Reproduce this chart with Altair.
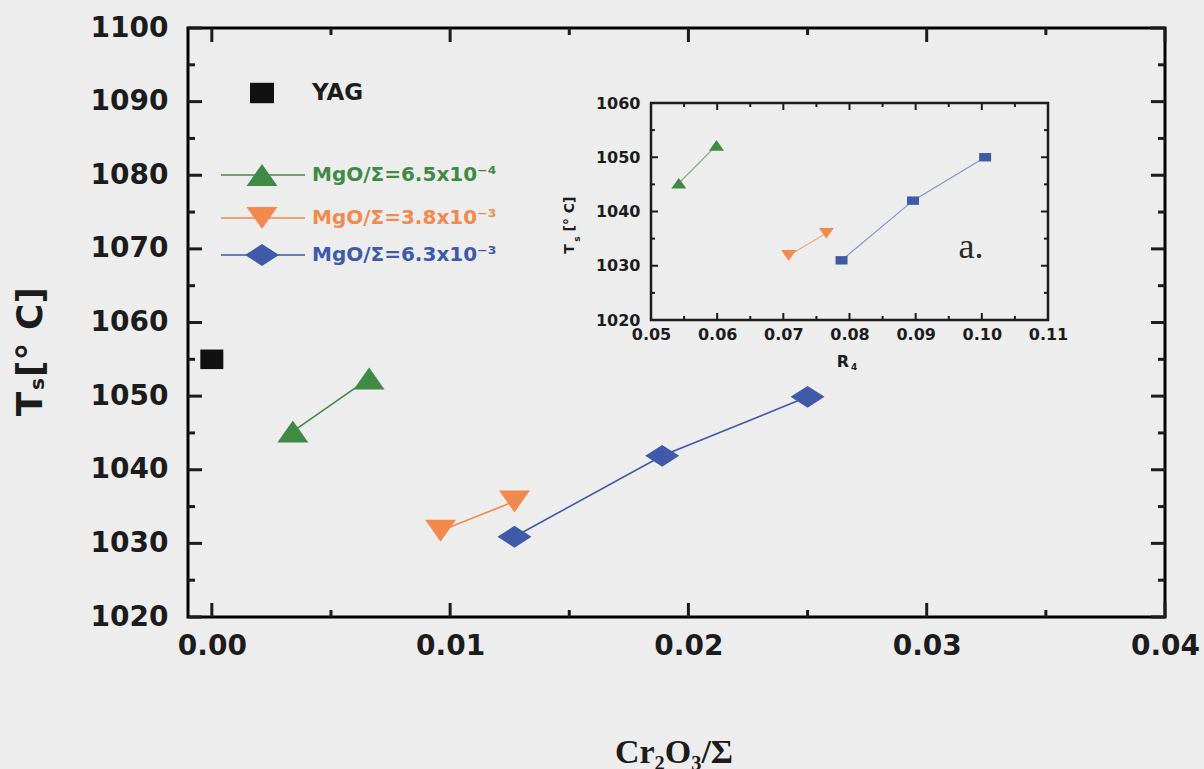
import altair as alt
import pandas as pd

# ---------------- data ----------------
series_names = ["MgO/Σ=6.5x10⁻⁴", "MgO/Σ=3.8x10⁻³", "MgO/Σ=6.3x10⁻³"]
series_colors = ["#3f8a45", "#f28a4e", "#3e5aa8"]
yag_name = "YAG"
yag_x = [0.0]
yag_y = [1055.0]
main_x = [[0.0034, 0.0066], [0.0096, 0.0127], [0.0127, 0.0189, 0.0250]]
main_y = [[1045.2, 1052.4], [1031.7, 1035.7], [1030.9, 1041.9, 1049.9]]
inset_x = [[0.0542, 0.0599], [0.0708, 0.0765], [0.0788, 0.0896, 0.1005]]
inset_y = [[1045.2, 1052.2], [1031.9, 1036.0], [1031.0, 1042.0, 1050.0]]

main_xdomain = [-0.001, 0.04]
main_ydomain = [1020, 1100]
main_xticks = [0.00, 0.01, 0.02, 0.03, 0.04]
main_xminor = [0.005, 0.015, 0.025, 0.035]
main_yticks = [1020, 1030, 1040, 1050, 1060, 1070, 1080, 1090, 1100]
main_yminor = [1025, 1035, 1045, 1055, 1065, 1075, 1085, 1095]

inset_xdomain = [0.05, 0.11]
inset_ydomain = [1020, 1060]
inset_xticks = [0.05, 0.06, 0.07, 0.08, 0.09, 0.10, 0.11]
inset_xminor = [0.055, 0.065, 0.075, 0.085, 0.095, 0.105]
inset_yticks = [1020, 1030, 1040, 1050, 1060]
inset_yminor = [1025, 1035, 1045, 1055]

# ---------------- layout / style ----------------
W, H = 977, 589
BG = "#ededee"
INK = "#1c1c1c"
LABEL_FONT = "DejaVu Sans"
SERIF = "Liberation Serif"

TRI_UP = "M0,-0.71L1,0.71L-1,0.71Z"
TRI_DN = "M0,0.71L1,-0.71L-1,-0.71Z"
DIAM = "M0,-0.64L1,0L0,0.64L-1,0Z"
SQ_MAIN = "M-1,-0.85L1,-0.85L1,0.85L-1,0.85Z"
SQ_INSET = "M-1,-0.7L1,-0.7L1,0.7L-1,0.7Z"
main_shapes = [(TRI_UP, 961), (TRI_DN, 961), (DIAM, 1156)]
inset_shapes = [(TRI_UP, 225), (TRI_DN, 225), (SQ_INSET, 144)]
inset_line_colors = ["#7fae82", "#f3a57a", "#8595c6"]

one = pd.DataFrame({"k": [0]})

# ---------------- main scales / axes ----------------
mxs = alt.Scale(domain=main_xdomain, nice=False, zero=False)
mys = alt.Scale(domain=main_ydomain, nice=False, zero=False)
mxa = alt.Axis(values=main_xticks, format=".2f", orient="bottom", labelFont=LABEL_FONT,
               labelFontWeight="bold", labelFontSize=28, labelColor=INK, ticks=False,
               domain=False, grid=False, labelPadding=15, title=None, labelFlush=False)
mya = alt.Axis(values=main_yticks, format="d", orient="left", labelFont=LABEL_FONT,
               labelFontWeight="bold", labelFontSize=28, labelColor=INK, ticks=False,
               domain=False, grid=False, labelPadding=20, title=None, labelFlush=False)


def mx(f):
    return alt.X(f, type="quantitative", scale=mxs, axis=mxa)


def my(f):
    return alt.Y(f, type="quantitative", scale=mys, axis=mya)


main_layers = []
for xs, ys, col, (shp, sz) in zip(main_x, main_y, series_colors, main_shapes):
    df = pd.DataFrame({"x": xs, "y": ys})
    main_layers.append(alt.Chart(df).mark_line(color=col, strokeWidth=1.6).encode(x=mx("x"), y=my("y")))
    main_layers.append(alt.Chart(df).mark_point(shape=shp, size=sz, filled=True, color=col,
                                                opacity=1, strokeWidth=0).encode(x=mx("x"), y=my("y")))
yag_df = pd.DataFrame({"x": yag_x, "y": yag_y})
main_layers.append(alt.Chart(yag_df).mark_point(shape=SQ_MAIN, size=529, filled=True, color="#111111",
                                                opacity=1, strokeWidth=0).encode(x=mx("x"), y=my("y")))


def hticks(vals, edge, off, enc_x, enc_y, sw):
    df = pd.DataFrame({"v": vals, "e": [edge] * len(vals)})
    return alt.Chart(df).mark_rule(color=INK, strokeWidth=sw, y2Offset=off).encode(
        x=enc_x("v"), y=enc_y("e"), y2="e")


def vticks(vals, edge, off, enc_x, enc_y, sw):
    df = pd.DataFrame({"v": vals, "e": [edge] * len(vals)})
    return alt.Chart(df).mark_rule(color=INK, strokeWidth=sw, x2Offset=off).encode(
        y=enc_y("v"), x=enc_x("e"), x2="e")


main_layers += [
    hticks(main_xticks, main_ydomain[0], -14, mx, my, 3),
    hticks(main_xminor, main_ydomain[0], -7, mx, my, 3),
    hticks(main_xticks, main_ydomain[1], 14, mx, my, 3),
    hticks(main_xminor, main_ydomain[1], 7, mx, my, 3),
    vticks(main_yticks, main_xdomain[0], 14, mx, my, 3),
    vticks(main_yminor, main_xdomain[0], 7, mx, my, 3),
    vticks(main_yticks, main_xdomain[1], -14, mx, my, 3),
    vticks(main_yminor, main_xdomain[1], -7, mx, my, 3),
]
main = alt.layer(*main_layers)

# ---------------- inset scales / axes ----------------
ixs = alt.Scale(domain=inset_xdomain, range=[463, 860], nice=False, zero=False)
iys = alt.Scale(domain=inset_ydomain, range=[292, 75], nice=False, zero=False)
ixa = alt.Axis(values=inset_xticks, format=".2f", orient="bottom", offset=-(H - 292),
               labelFont=LABEL_FONT, labelFontWeight="bold", labelFontSize=16, labelColor=INK,
               ticks=False, domain=False, grid=False, labelPadding=6, title=None, labelFlush=False)
iya = alt.Axis(values=inset_yticks, format="d", orient="left", offset=-463,
               labelFont=LABEL_FONT, labelFontWeight="bold", labelFontSize=16, labelColor=INK,
               ticks=False, domain=False, grid=False, labelPadding=11, title=None, labelFlush=False)


def ix(f):
    return alt.X(f, type="quantitative", scale=ixs, axis=ixa)


def iy(f):
    return alt.Y(f, type="quantitative", scale=iys, axis=iya)


frame_df = pd.DataFrame({"x0": [inset_xdomain[0]], "x1": [inset_xdomain[1]],
                         "y0": [inset_ydomain[0]], "y1": [inset_ydomain[1]]})
inset_layers = [
    alt.Chart(frame_df).mark_rect(fillOpacity=0, stroke=INK, strokeWidth=2.5).encode(
        x=ix("x0"), x2="x1", y=iy("y0"), y2="y1")
]
for xs, ys, col, lcol, (shp, sz) in zip(inset_x, inset_y, series_colors, inset_line_colors, inset_shapes):
    df = pd.DataFrame({"x": xs, "y": ys})
    inset_layers.append(alt.Chart(df).mark_line(color=lcol, strokeWidth=1.2).encode(x=ix("x"), y=iy("y")))
    inset_layers.append(alt.Chart(df).mark_point(shape=shp, size=sz, filled=True, color=col,
                                                 opacity=1, strokeWidth=0).encode(x=ix("x"), y=iy("y")))
inset_layers += [
    hticks(inset_xticks, inset_ydomain[0], -7, ix, iy, 2),
    hticks(inset_xminor, inset_ydomain[0], -4, ix, iy, 2),
    hticks(inset_xticks, inset_ydomain[1], 7, ix, iy, 2),
    hticks(inset_xminor, inset_ydomain[1], 4, ix, iy, 2),
    vticks(inset_yticks, inset_xdomain[0], 7, ix, iy, 2),
    vticks(inset_yminor, inset_xdomain[0], 4, ix, iy, 2),
    vticks(inset_yticks, inset_xdomain[1], -7, ix, iy, 2),
    vticks(inset_yminor, inset_xdomain[1], -4, ix, iy, 2),
]
inset = alt.layer(*inset_layers)


# ---------------- annotations (legend, titles) ----------------
def txt(text, x, y, size, font=LABEL_FONT, weight="bold", color=INK, align="center",
        baseline="middle", angle=0):
    return alt.Chart(one).mark_text(text=text, font=font, fontSize=size, fontWeight=weight,
                                    color=color, align=align, baseline=baseline, angle=angle).encode(
        x=alt.value(x), y=alt.value(y))


ann = []
# legend
ann.append(alt.Chart(one).mark_point(shape=SQ_MAIN, size=576, filled=True, color="#111111",
                                     opacity=1, strokeWidth=0).encode(x=alt.value(74), y=alt.value(65)))
ann.append(txt(yag_name, 124, 65, 23, align="left"))
leg_rows = [147, 190, 227]
for name, col, (shp, sz), ry in zip(series_names, series_colors, main_shapes, leg_rows):
    ann.append(alt.Chart(one).mark_rule(color=col, strokeWidth=1.6).encode(
        x=alt.value(33), x2=alt.value(117), y=alt.value(ry)))
    ann.append(alt.Chart(one).mark_point(shape=shp, size=sz, filled=True, color=col,
                                         opacity=1, strokeWidth=0).encode(x=alt.value(74), y=alt.value(ry)))
    ann.append(txt(name, 124, ry, 20, color=col, align="left"))

# main axis titles
ann.append(txt("[° C]", -157, 304, 36, angle=270))
ann.append(txt("T", -157, 376, 36, angle=270))
ann.append(txt("s", -150, 356, 20, angle=270))
ann.append(txt("Cr₂O₃/Σ", 486, 735, 34, font=SERIF, weight="bold", baseline="alphabetic"))

# inset titles and label
ann.append(txt("[° C]", 382, 186, 14, angle=270))
ann.append(txt("T", 382, 221, 14, angle=270))
ann.append(txt("s", 389, 211, 9, angle=270))
ann.append(txt("R", 655, 334, 16))
ann.append(txt("4", 666, 339, 9))
ann.append(txt("a.", 783, 230, 36, font=SERIF, weight="normal", color="#2a2a2a", baseline="alphabetic"))

chart = alt.layer(main, inset, *ann).resolve_scale(x="independent", y="independent").properties(
    width=W, height=H, background=BG, autosize="none",
    padding={"left": 188, "top": 28, "right": 1204 - 188 - W, "bottom": 769 - 28 - H},
).configure_view(stroke="black", strokeWidth=3)

chart.save("out.html", embed_options={"renderer": "svg", "actions": False})
